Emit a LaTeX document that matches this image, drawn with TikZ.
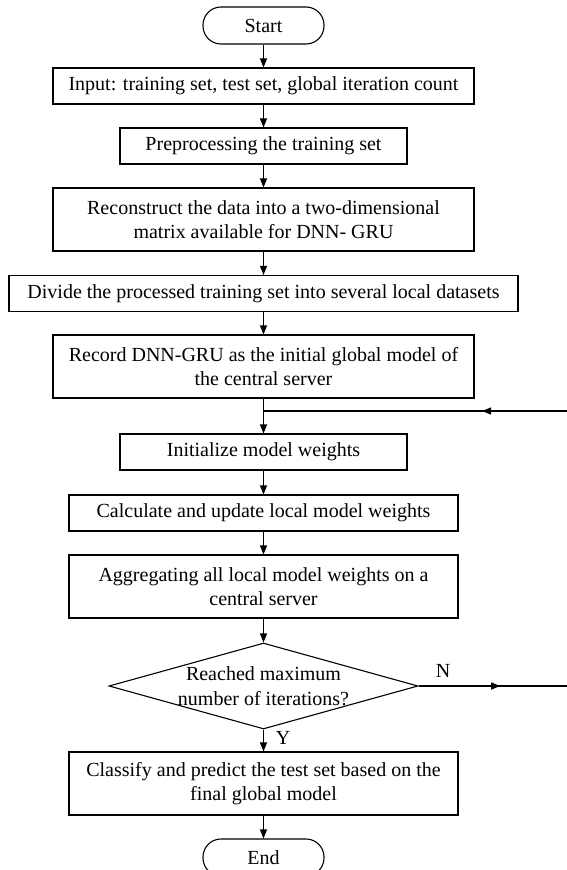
\documentclass[tikz,border=0pt]{standalone}
\usepackage{fontspec}
\setmainfont{Liberation Serif}
\usetikzlibrary{arrows.meta,shapes.geometric,decorations.markings}
\begin{document}
\begin{tikzpicture}[x=1pt,y=-1pt,
  font=\fontsize{20}{24.5}\selectfont,
  line width=1.1pt,
  box/.style={draw,rectangle,align=center,inner sep=0pt,minimum height=36pt},
  tall/.style={box,minimum height=63pt},
  term/.style={draw,rectangle,rounded corners=18pt,minimum width=121pt,minimum height=37pt,inner sep=0pt},
  arr/.style={-{Triangle[length=9pt,width=7pt]}},
  midarr/.style={postaction={decorate},decoration={markings,mark=at position #1 with {\arrow{Triangle[length=9pt,width=7pt]}}}},
  ]
\useasboundingbox (0,0) rectangle (567,870);
\node[term] (start) at (263.5,25.5) {Start};
\node[box,minimum width=421pt] (b1) at (263.5,86) {Input: training set, test set, global iteration count};
\node[box,minimum width=287pt] (b2) at (263.5,146) {Preprocessing the training set};
\node[tall,minimum width=421pt] (b3) at (263.5,219.5) {Reconstruct the data into a two-dimensional\\matrix available for DNN- GRU};
\node[box,minimum width=509pt] (b4) at (263.5,293.5) {Divide the processed training set into several local datasets};
\node[tall,minimum width=421pt] (b5) at (263.5,366.5) {Record DNN-GRU as the initial global model of\\the central server};
\coordinate (j) at (263.5,411);
\coordinate (loopR) at (567,411);
\node[box,minimum width=287pt] (b6) at (263.5,452) {Initialize model weights};
\node[box,minimum width=389pt] (b7) at (263.5,513) {Calculate and update local model weights};
\node[tall,minimum width=389pt] (b8) at (263.5,586.5) {Aggregating all local model weights on a\\central server};
\node[draw,diamond,minimum width=309pt,minimum height=86pt,inner sep=0pt] (dia) at (263.5,686) {};
\node[align=center,inner sep=0pt] (diat) at (263.5,686) {Reached maximum\\number of iterations?};
\node (N) at (443,671) {N};
\node (Y) at (283,738) {Y};
\coordinate (nR) at (567,686);
\node[tall,minimum width=389pt] (b9) at (263.5,783.5) {Classify and predict the test set based on the\\final global model};
\node[term] (end) at (263.5,857.5) {End};

\draw[arr] (start) -- (b1);
\draw[arr] (b1) -- (b2);
\draw[arr] (b2) -- (b3);
\draw[arr] (b3) -- (b4);
\draw[arr] (b4) -- (b5);
\draw[arr] (b5) -- (b6);
\draw[midarr=0.28] (loopR) -- (j);
\draw[arr] (b6) -- (b7);
\draw[arr] (b7) -- (b8);
\draw[arr] (b8) -- (dia);
\draw[arr] (dia) -- (b9);
\draw[midarr=0.55] (dia.east) -- (nR);
\draw[arr] (b9) -- (end);
\end{tikzpicture}
\end{document}
